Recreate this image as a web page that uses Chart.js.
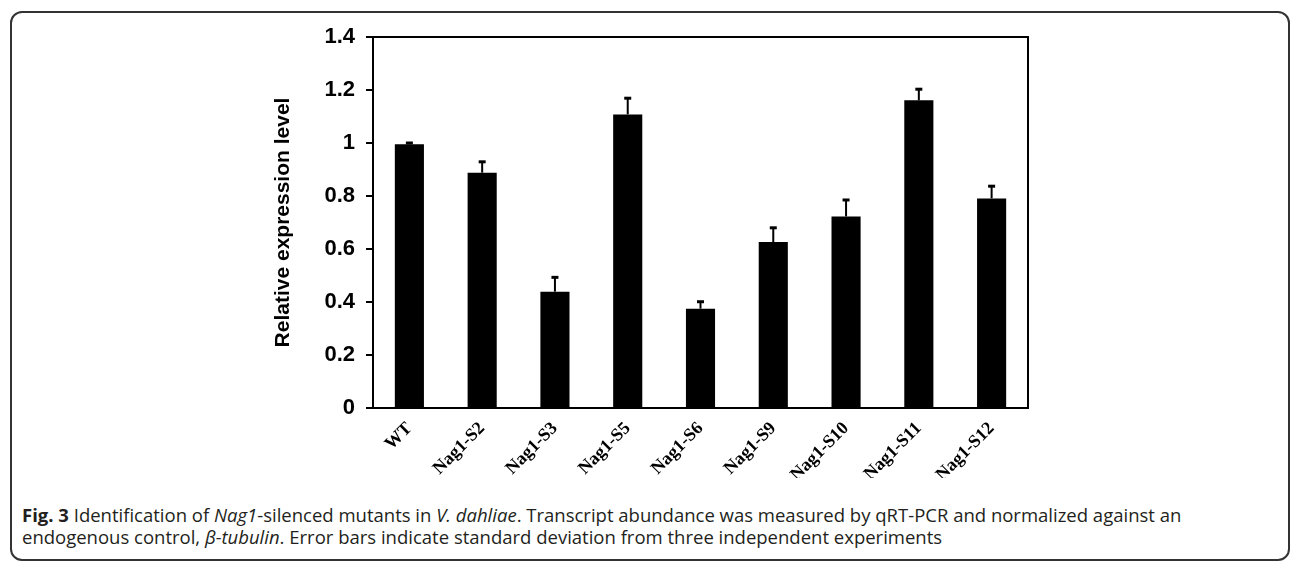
<!DOCTYPE html>
<html>
<head>
<meta charset="utf-8">
<script src="https://cdn.jsdelivr.net/npm/chart.js@4.4.1/dist/chart.umd.min.js"></script>
<style>
  body { margin: 0; background: #fff; width: 1292px; height: 561px; overflow: hidden; position: relative; }
  #frame { position: absolute; left: 10px; top: 11px; width: 1276px; height: 546px; border: 2px solid #333; border-radius: 12px; }
  #chartBox { position: absolute; left: 0; top: 0; width: 1292px; height: 500px; }
  #caption { position: absolute; left: 22px; top: 504px; width: 1265px; white-space: nowrap; font-family: "Open Sans", sans-serif; font-size: 18.5px; line-height: 22px; color: #231f20; }
</style>
</head>
<body>
<div id="frame"></div>
<div id="chartBox"><canvas id="expChart" width="1292" height="500"></canvas></div>
<div id="caption"><b>Fig. 3</b> Identification of <i>Nag1</i>-silenced mutants in <i>V. dahliae</i>. Transcript abundance was measured by qRT-PCR and normalized against an<br>endogenous control, <i>β-tubulin</i>. Error bars indicate standard deviation from three independent experiments</div>
<script>
// strains on the x axis
const strains = ["WT", "Nag1-S2", "Nag1-S3", "Nag1-S5", "Nag1-S6", "Nag1-S9", "Nag1-S10", "Nag1-S11", "Nag1-S12"];
// relative expression
const expression = [0.995, 0.888, 0.439, 1.108, 0.375, 0.626, 0.723, 1.161, 0.791];
// standard deviation (upper half of the error bar only)
const stdDev = [0.005, 0.041, 0.054, 0.061, 0.026, 0.054, 0.062, 0.042, 0.046];
// y tick values
const yTicks = [0, 0.2, 0.4, 0.6, 0.8, 1, 1.2, 1.4];

// draw the box around the plot area
const frameBox = {
  id: "frameBox",
  afterDraw(chart) {
    const { ctx, chartArea } = chart;
    ctx.save();
    ctx.strokeStyle = "#000";
    ctx.lineWidth = 2;
    ctx.strokeRect(chartArea.left, chartArea.top, chartArea.right - chartArea.left, chartArea.bottom - chartArea.top);
    ctx.restore();
  },
};

// upward error bars with a small cap
const errorBars = {
  id: "errorBars",
  afterDatasetsDraw(chart) {
    const { ctx } = chart;
    const meta = chart.getDatasetMeta(0);
    const yScale = chart.scales.y;
    ctx.save();
    ctx.strokeStyle = "#000";
    meta.data.forEach((bar, i) => {
      const yTop = yScale.getPixelForValue(expression[i] + stdDev[i]);
      const yVal = yScale.getPixelForValue(expression[i]);
      ctx.lineWidth = 2;
      ctx.beginPath();
      ctx.moveTo(bar.x, yVal);
      ctx.lineTo(bar.x, yTop);
      ctx.stroke();
      ctx.lineWidth = 3;
      ctx.beginPath();
      ctx.moveTo(bar.x - 3.5, yTop);
      ctx.lineTo(bar.x + 3.5, yTop);
      ctx.stroke();
    });
    ctx.restore();
  },
};

const ctx = document.getElementById("expChart").getContext("2d");
new Chart(ctx, {
  type: "bar",
  data: {
    labels: strains,
    datasets: [
      {
        label: "Relative expression level",
        data: expression,
        backgroundColor: "#000",
        barPercentage: 0.4,
        categoryPercentage: 1,
      },
    ],
  },
  options: {
    responsive: false,
    animation: false,
    layout: { padding: { left: 271, right: 264, top: 37, bottom: 22 } },
    plugins: {
      legend: { display: false },
      tooltip: { enabled: false },
    },
    scales: {
      x: {
        grid: { display: false },
        border: { display: true, color: "#000", width: 2 },
        ticks: {
          color: "#000",
          minRotation: 45,
          maxRotation: 45,
          padding: 2,
          font: { family: "Liberation Serif", weight: "bold", size: 18 },
        },
        afterFit(scale) { scale.height = 70; },
      },
      y: {
        min: 0,
        max: 1.4,
        afterBuildTicks(scale) { scale.ticks = yTicks.map((v) => ({ value: v })); },
        grid: { drawOnChartArea: false, drawTicks: true, tickLength: 7, color: "#000", lineWidth: 2 },
        border: { display: true, color: "#000", width: 2 },
        ticks: {
          color: "#000",
          padding: 11,
          font: { family: "Liberation Sans", weight: "bold", size: 22 },
          callback: (v) => String(Math.round(v * 10) / 10),
        },
        title: {
          display: true,
          text: "Relative expression level",
          color: "#000",
          font: { family: "Liberation Sans", weight: "bold", size: 21 },
          padding: 0,
        },
        afterFit(scale) { scale.width = 102; },
      },
    },
  },
  plugins: [frameBox, errorBars],
});
</script>
</body>
</html>
